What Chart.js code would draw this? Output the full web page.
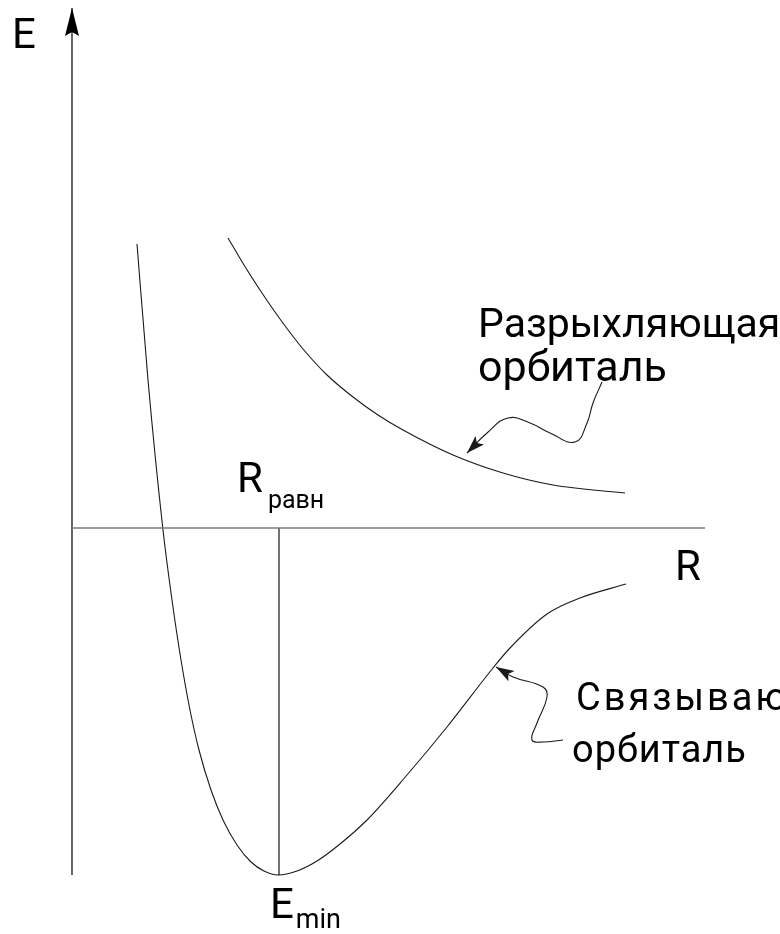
<!DOCTYPE html>
<html lang="ru">
<head>
<meta charset="utf-8">
<title>Энергия молекулярных орбиталей</title>
<script src="https://cdn.jsdelivr.net/npm/chart.js@4/dist/chart.umd.min.js"></script>
<style>
  html, body { margin: 0; padding: 0; background: #fff; }
  #wrap { position: relative; width: 780px; height: 934px; }
</style>
</head>
<body>
<div id="wrap"><canvas id="chart" width="780" height="934"></canvas></div>
<script>
// Internuclear distance R and energy E (arbitrary units)
const bondingR = [0.65, 0.76, 0.91, 1.00, 1.09, 1.18, 1.27, 1.39, 1.51, 1.65, 1.79, 1.92, 2.06,
  2.25, 2.45, 2.68, 2.95, 3.35, 3.75, 4.21, 4.38, 4.75, 5.08, 5.54];
const bondingE = [2.84, 1.48, -0.02, -0.72, -1.32, -1.82, -2.22, -2.62, -2.92, -3.17, -3.34, -3.43, -3.47,
  -3.43, -3.33, -3.16, -2.92, -2.47, -1.99, -1.40, -1.20, -0.86, -0.70, -0.56];

const antibondingR = [1.56, 1.72, 1.88, 2.08, 2.31, 2.55, 2.81, 3.06, 3.31, 3.81, 4.31, 4.81, 5.53];
const antibondingE = [2.90, 2.63, 2.38, 2.09, 1.79, 1.53, 1.31, 1.13, 0.98, 0.73, 0.55, 0.43, 0.35];

// equilibrium distance and energy minimum
const rEq = 2.07;
const eMin = -3.47;

// axis extents
const rAxisEnd = 6.33;
const eAxisTop = 5.20;
const eAxisBottom = -3.47;

// wavy leader arrows pointing at the curves (tail -> tip)
const antiLeaderR = [5.30, 5.21, 5.15, 5.03, 4.78, 4.58, 4.36, 4.15, 3.95];
const antiLeaderE = [1.46, 1.25, 1.05, 0.86, 0.95, 1.05, 1.10, 0.95, 0.75];
const bondLeaderR = [4.91, 4.71, 4.60, 4.65, 4.75, 4.71, 4.41, 4.24];
const bondLeaderE = [-2.12, -2.14, -2.12, -1.95, -1.69, -1.59, -1.49, -1.39];

const zip = (xs, ys) => xs.map((x, i) => ({ x, y: ys[i] }));

const FONT = "Roboto, 'Liberation Sans', sans-serif";

// text labels anchored in data space
const labels = [
  { text: "E", r: -0.60, e: 4.80, size: 42 },
  { text: "R", sub: "равн", r: 1.65, e: 0.36, size: 42, subSize: 25, subDrop: 16, subGap: 5 },
  { text: "E", sub: "min", r: 1.98, e: -3.90, size: 42, subSize: 27, subDrop: 10, subGap: 2 },
  { text: "R", r: 6.03, e: -0.52, size: 42 },
  { text: "Разрыхляющая", r: 4.06, e: 1.91, size: 41 },
  { text: "орбиталь", r: 4.06, e: 1.47, size: 43 },
  { text: "Связывающая", r: 5.04, e: -1.82, size: 38, spacing: 3 },
  { text: "орбиталь", r: 5.00, e: -2.34, size: 38, spacing: 1 },
];

const textPlugin = {
  id: "textLabels",
  afterDatasetsDraw(chart) {
    const { ctx, scales } = chart;
    ctx.save();
    ctx.fillStyle = "#000";
    ctx.textBaseline = "alphabetic";
    ctx.textAlign = "left";
    labels.forEach((l) => {
      const x = scales.x.getPixelForValue(l.r);
      const y = scales.y.getPixelForValue(l.e);
      ctx.letterSpacing = (l.spacing || 0) + "px";
      ctx.font = `${l.size}px ${FONT}`;
      ctx.fillText(l.text, x, y);
      if (l.sub) {
        const w = ctx.measureText(l.text).width;
        ctx.font = `${l.subSize}px ${FONT}`;
        ctx.fillText(l.sub, x + w + l.subGap, y + l.subDrop);
      }
    });
    ctx.restore();
  },
};

// filled dart at the last point of any dataset flagged with arrowHead
const arrowPlugin = {
  id: "arrowHeads",
  afterDatasetsDraw(chart) {
    const { ctx } = chart;
    chart.data.datasets.forEach((ds, i) => {
      if (!ds.arrowHead) return;
      const pts = chart.getDatasetMeta(i).data;
      const tip = pts[pts.length - 1];
      const prev = pts[pts.length - 2];
      const ang = Math.atan2(tip.y - prev.y, tip.x - prev.x);
      const { len, half, notch } = ds.arrowHead;
      ctx.save();
      ctx.translate(tip.x, tip.y);
      ctx.rotate(ang);
      ctx.fillStyle = ds.borderColor;
      ctx.beginPath();
      ctx.moveTo(0, 0);
      ctx.lineTo(-len, -half);
      ctx.lineTo(-len + notch, 0);
      ctx.lineTo(-len, half);
      ctx.closePath();
      ctx.fill();
      ctx.restore();
    });
  },
};

const line = (data, extra = {}) => ({
  data,
  showLine: true,
  pointRadius: 0,
  borderColor: "#1a1a1a",
  borderWidth: 1.1,
  tension: 0,
  ...extra,
});

new Chart(document.getElementById("chart"), {
  type: "scatter",
  data: {
    datasets: [
      line([{ x: 0, y: 0 }, { x: rAxisEnd, y: 0 }], { borderColor: "#7a7a7a", borderWidth: 1.6 }),
      line([{ x: 0, y: eAxisBottom }, { x: 0, y: eAxisTop }], {
        borderColor: "#000", borderWidth: 1.2, arrowHead: { len: 28, half: 7, notch: 4 },
      }),
      line([{ x: rEq, y: 0 }, { x: rEq, y: eMin }], { borderColor: "#000", borderWidth: 1.1 }),
      line(zip(bondingR, bondingE), { cubicInterpolationMode: "monotone" }),
      line(zip(antibondingR, antibondingE), { cubicInterpolationMode: "monotone" }),
      line(zip(antiLeaderR, antiLeaderE), { tension: 0.45, arrowHead: { len: 18, half: 6, notch: 4 } }),
      line(zip(bondLeaderR, bondLeaderE), { tension: 0.45, arrowHead: { len: 18, half: 6, notch: 4 } }),
    ],
  },
  options: {
    responsive: false,
    animation: false,
    layout: { padding: 0 },
    scales: {
      x: { type: "linear", min: -0.72, max: 7.08, display: false },
      y: { type: "linear", min: -4.06, max: 5.28, display: false },
    },
    plugins: { legend: { display: false }, tooltip: { enabled: false } },
  },
  plugins: [arrowPlugin, textPlugin],
});
</script>
</body>
</html>
